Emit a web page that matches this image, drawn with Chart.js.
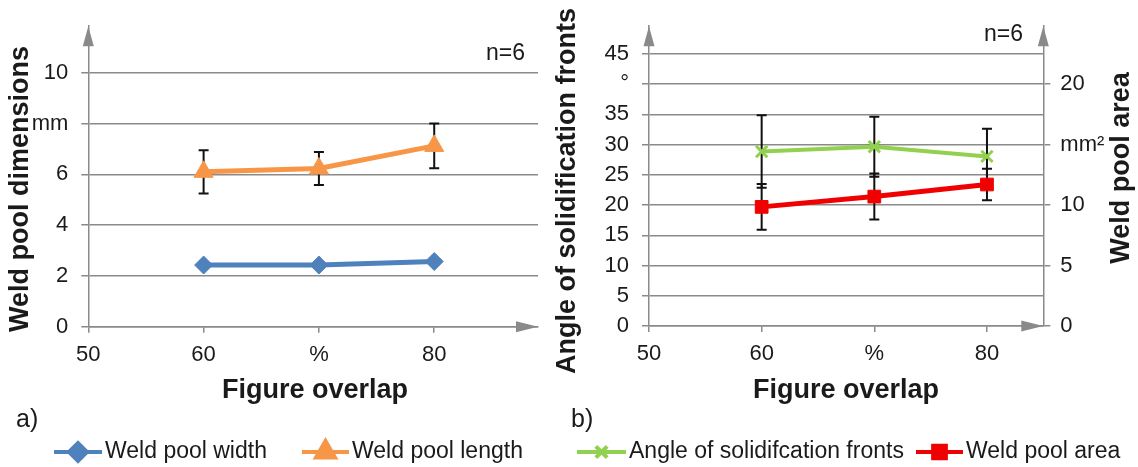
<!DOCTYPE html>
<html>
<head>
<meta charset="utf-8">
<script src="https://cdn.jsdelivr.net/npm/chart.js@4.4.1/dist/chart.umd.min.js"></script>
<style>
  body { margin: 0; background: #fff; }
  #wrap { position: relative; width: 1138px; height: 467px; }
  canvas { position: absolute; top: 0; }
</style>
</head>
<body>
<div id="wrap">
  <canvas id="left" width="550" height="467" style="left:0"></canvas>
  <canvas id="right" width="588" height="467" style="left:550px"></canvas>
</div>
<script>
// overlap values (x axis) shared by both panels
const overlap = [60, 70, 80];

// a) weld pool dimensions, mm
const poolWidth = [2.43, 2.43, 2.57];
const poolLength = [6.1, 6.23, 7.12];
const poolLengthErr = [0.85, 0.65, 0.88];

// b) angle of solidification fronts (deg) and weld pool area (mm²)
const angle = [28.85, 29.65, 28.05];
const angleErr = [6.0, 4.95, 4.55];
const poolArea = [9.85, 10.7, 11.7];
const poolAreaErr = [1.9, 1.9, 1.3];

// tick labels
const xTicks = [50, 60, 70, 80];
const xTickText = ['50', '60', '%', '80'];
const dimTicks = [0, 2, 4, 6, 8, 10];
const dimTickText = ['0', '2', '4', '6', 'mm', '10'];
const angleTicks = [0, 5, 10, 15, 20, 25, 30, 35, 40, 45];
const angleTickText = ['0', '5', '10', '15', '20', '25', '30', '35', '°', '45'];
const areaTicks = [0, 5, 10, 15, 20];
const areaTickText = ['0', '5', '10', 'mm²', '20'];

const FONT = '"Liberation Sans", Arial, sans-serif';
const GRAY = '#8a8a8a';
const INK = '#1a1a1a';

const pts = ys => overlap.map((x, i) => ({ x: x, y: ys[i] }));
const fixedTicks = values => s => { s.ticks = values.map(v => ({ value: v })); };

// arrows, error bars, free texts and the Excel-like legend
const extras = {
  id: 'extras',
  beforeDatasetsDraw(chart, args, opts) {
    const ctx = chart.ctx;
    const xs = chart.scales.x;
    (opts.errorBars || []).forEach(eb => {
      const meta = chart.getDatasetMeta(eb.dataset);
      const ys = chart.scales[meta.yAxisID];
      const ds = chart.data.datasets[eb.dataset];
      ctx.save();
      ctx.strokeStyle = '#111';
      ctx.lineWidth = 2;
      ds.data.forEach((p, i) => {
        const px = xs.getPixelForValue(p.x);
        const top = ys.getPixelForValue(p.y + eb.err[i]);
        const bot = ys.getPixelForValue(p.y - eb.err[i]);
        ctx.beginPath();
        ctx.moveTo(px, top); ctx.lineTo(px, bot);
        ctx.moveTo(px - 5, top); ctx.lineTo(px + 5, top);
        ctx.moveTo(px - 5, bot); ctx.lineTo(px + 5, bot);
        ctx.stroke();
      });
      ctx.restore();
    });
  },
  afterDraw(chart, args, opts) {
    const ctx = chart.ctx;
    const a = chart.chartArea;
    ctx.save();
    ctx.fillStyle = GRAY;
    (opts.upArrows || []).forEach(side => {
      const x0 = side === 'right' ? a.right : a.left;
      ctx.beginPath();
      ctx.moveTo(x0, a.top);
      ctx.lineTo(x0 - 5.5, a.top + 20);
      ctx.lineTo(x0 + 5.5, a.top + 20);
      ctx.closePath();
      ctx.fill();
    });
    ctx.beginPath();
    ctx.moveTo(a.right, a.bottom);
    ctx.lineTo(a.right - 22, a.bottom - 5.5);
    ctx.lineTo(a.right - 22, a.bottom + 5.5);
    ctx.closePath();
    ctx.fill();

    ctx.fillStyle = INK;
    ctx.textBaseline = 'middle';
    (opts.texts || []).forEach(t => {
      ctx.save();
      ctx.font = t.font;
      ctx.textAlign = t.align || 'center';
      ctx.translate(t.x, t.y);
      if (t.rotate) ctx.rotate(t.rotate);
      ctx.fillText(t.text, 0, 0);
      ctx.restore();
    });

    const ly = opts.legendY;
    (opts.legend || []).forEach(it => {
      const ds = chart.data.datasets[it.dataset];
      ctx.strokeStyle = ds.borderColor;
      ctx.lineWidth = 4;
      ctx.beginPath();
      ctx.moveTo(it.x1, ly);
      ctx.lineTo(it.x2, ly);
      ctx.stroke();
      ctx.fillStyle = ds.pointBackgroundColor;
      ctx.strokeStyle = ds.pointBorderColor;
      Chart.helpers.drawPoint(ctx, {
        pointStyle: ds.pointStyle, rotation: 0,
        radius: ds.pointRadius, borderWidth: ds.pointBorderWidth
      }, (it.x1 + it.x2) / 2, ly);
      ctx.fillStyle = INK;
      ctx.font = '23px ' + FONT;
      ctx.textAlign = 'left';
      ctx.fillText(ds.label, it.x2 + 3, ly);
    });
    ctx.restore();
  }
};

const tickFont = { family: FONT, size: 22 };
const titleFont = 'bold 27px ' + FONT;

function xScale(max, height) {
  return {
    type: 'linear', min: 50, max: max,
    afterBuildTicks: fixedTicks(xTicks),
    afterFit: s => { s.height = height; },
    ticks: { callback: (v, i) => xTickText[i], font: tickFont, color: INK, padding: 9, maxRotation: 0, autoSkip: false },
    grid: { drawOnChartArea: false, color: GRAY, lineWidth: 1.5, tickLength: 6 },
    border: { color: GRAY, width: 1.5 }
  };
}

new Chart(document.getElementById('left'), {
  type: 'line',
  data: {
    datasets: [
      {
        label: 'Weld pool width', data: pts(poolWidth),
        borderColor: '#4f81bd', borderWidth: 5,
        pointStyle: 'rectRot', pointRadius: 9, pointBorderWidth: 1,
        pointBackgroundColor: '#4f81bd', pointBorderColor: '#4f81bd'
      },
      {
        label: 'Weld pool length', data: pts(poolLength),
        borderColor: '#f79646', borderWidth: 5,
        pointStyle: 'triangle', pointRadius: 11, pointBorderWidth: 1,
        pointBackgroundColor: '#f79646', pointBorderColor: '#f79646'
      }
    ]
  },
  options: {
    responsive: false, animation: false,
    layout: { padding: { left: 0, top: 15, right: 8.3, bottom: 0 } },
    scales: {
      x: xScale(89, 140.2),
      y: {
        min: 0, max: 11.83,
        afterBuildTicks: fixedTicks(dimTicks),
        afterFit: s => { s.width = 88.3; },
        ticks: { callback: (v, i) => dimTickText[i], font: tickFont, color: INK, padding: 13 },
        grid: { color: GRAY, lineWidth: 1.5, tickLength: 7 },
        border: { color: GRAY, width: 1.5 }
      }
    },
    plugins: {
      legend: { display: false },
      tooltip: { enabled: false },
      extras: {
        upArrows: ['left'],
        errorBars: [{ dataset: 1, err: poolLengthErr }],
        texts: [
          { text: 'Weld pool dimensions', x: 21, y: 189, font: titleFont, rotate: -Math.PI / 2 },
          { text: 'Figure overlap', x: 315, y: 391, font: titleFont },
          { text: 'a)', x: 16, y: 420, font: '25px ' + FONT, align: 'left' },
          { text: 'n=6', x: 525, y: 54, font: '23px ' + FONT, align: 'right' }
        ],
        legendY: 452,
        legend: [{ dataset: 0, x1: 54, x2: 102 }, { dataset: 1, x1: 302, x2: 349 }]
      }
    }
  },
  plugins: [extras]
});

new Chart(document.getElementById('right'), {
  type: 'line',
  data: {
    datasets: [
      {
        label: 'Angle of solidifcation fronts', data: pts(angle), yAxisID: 'y',
        borderColor: '#92d050', borderWidth: 4,
        pointStyle: 'crossRot', pointRadius: 8, pointBorderWidth: 3,
        pointBackgroundColor: '#92d050', pointBorderColor: '#92d050'
      },
      {
        label: 'Weld pool area', data: pts(poolArea), yAxisID: 'y2',
        borderColor: '#f00000', borderWidth: 5,
        pointStyle: 'rect', pointRadius: 9, pointBorderWidth: 1,
        pointBackgroundColor: '#f00000', pointBorderColor: '#f00000'
      }
    ]
  },
  options: {
    responsive: false, animation: false,
    layout: { padding: { left: 0, top: 15, right: 0, bottom: 0 } },
    scales: {
      x: xScale(85, 141),
      y: {
        position: 'left', min: 0, max: 49.58,
        afterBuildTicks: fixedTicks(angleTicks),
        afterFit: s => { s.width = 99; },
        ticks: { callback: (v, i) => angleTickText[i], font: tickFont, color: INK, padding: 13 },
        grid: { color: GRAY, lineWidth: 1.5, tickLength: 7 },
        border: { color: GRAY, width: 1.5 }
      },
      y2: {
        position: 'right', min: 0, max: 24.79,
        afterBuildTicks: fixedTicks(areaTicks),
        afterFit: s => { s.width = 94.7; },
        ticks: { callback: (v, i) => areaTickText[i], font: tickFont, color: INK, padding: 10 },
        grid: { drawOnChartArea: false, color: GRAY, lineWidth: 1.5, tickLength: 7 },
        border: { color: GRAY, width: 1.5 }
      }
    },
    plugins: {
      legend: { display: false },
      tooltip: { enabled: false },
      extras: {
        upArrows: ['left', 'right'],
        errorBars: [{ dataset: 0, err: angleErr }, { dataset: 1, err: poolAreaErr }],
        texts: [
          { text: 'Angle of solidification fronts', x: 18, y: 191, font: titleFont, rotate: -Math.PI / 2 },
          { text: 'Weld pool area', x: 571.5, y: 168, font: titleFont, rotate: -Math.PI / 2 },
          { text: 'Figure overlap', x: 296, y: 391, font: titleFont },
          { text: 'b)', x: 21, y: 420, font: '25px ' + FONT, align: 'left' },
          { text: 'n=6', x: 473, y: 35, font: '23px ' + FONT, align: 'right' }
        ],
        legendY: 452,
        legend: [{ dataset: 0, x1: 27, x2: 76 }, { dataset: 1, x1: 366, x2: 413 }]
      }
    }
  },
  plugins: [extras]
});
</script>
</body>
</html>
